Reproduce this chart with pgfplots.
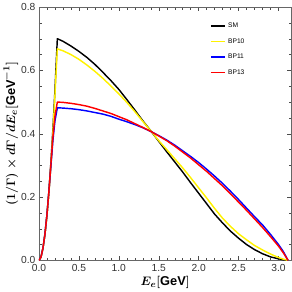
\documentclass[border=0pt]{standalone}
\usepackage{amsmath}
\usepackage{fontspec}
\setmainfont{Liberation Sans}
\usepackage{pgfplots}
\pgfplotsset{compat=1.18}
\begin{document}
\begin{tikzpicture}
\begin{axis}[
  scale only axis,
  width=246pt, height=247pt,
  xmin=0, xmax=3.16, ymin=0, ymax=0.8,
  xtick={0,0.5,1,1.5,2,2.5,3},
  ytick={0,0.2,0.4,0.6,0.8},
  xticklabels={0.0,0.5,1.0,1.5,2.0,2.5,3.0},
  yticklabels={0.0,0.2,0.4,0.6,0.8},
  minor x tick num=4, minor y tick num=3,
  tick align=inside,
  major tick length=4pt, minor tick length=2.5pt,
  every tick/.style={black!70, thin},
  axis line style={black!60, line width=0.6pt},
  tick label style={font=\fontsize{10}{12}\selectfont, text=black!80},
  /pgf/number format/assume math mode=true,
  xlabel={$\boldsymbol{E_e[\mathrm{GeV}]}$},
  ylabel={$\boldsymbol{(1/\Gamma)\times d\Gamma/dE_e[\mathrm{GeV}^{-1}]}$},
  label style={font=\fontsize{12.5}{14}\selectfont},
  xlabel style={yshift=2pt},
  ylabel style={yshift=-4pt},
  legend style={draw=none, fill=none, at={(0.665,0.955)}, anchor=north west,
    font=\fontsize{6.5}{7}\selectfont, row sep=5.2pt},
  legend cell align=left,
  legend image code/.code={\draw[#1, line width=1.4pt] (0cm,0cm) -- (0.5cm,0cm);},
  every axis plot/.append style={line width=1.4pt, line join=round},
]
\addplot[black] coordinates {
(0,0) (0.025,0.0103) (0.05,0.0386) (0.075,0.0833) (0.1,0.1438) (0.125,0.2197) (0.15,0.311) (0.175,0.4165) (0.2,0.5367) (0.23,0.700)
(0.3,0.692) (0.4,0.677) (0.5,0.660) (0.6,0.641) (0.7,0.619) (0.8,0.594) (0.9,0.568) (1.0,0.540) (1.1,0.508) (1.2,0.475) (1.3,0.441) (1.41,0.406)
(1.5,0.376) (1.6,0.343) (1.7,0.311) (1.8,0.279) (1.9,0.245) (2.0,0.212) (2.1,0.179) (2.2,0.146) (2.3,0.118) (2.4,0.092) (2.5,0.070) (2.6,0.050)
(2.7,0.034) (2.8,0.021) (2.9,0.011) (3.0,0.005) (3.06,0.002) (3.12,0)
};
\addlegendentry{SM}
\addplot[yellow] coordinates {
(0,0) (0.025,0.0100) (0.05,0.0376) (0.075,0.0812) (0.1,0.1400) (0.125,0.2140) (0.15,0.303) (0.175,0.405) (0.2,0.522) (0.23,0.668)
(0.3,0.662) (0.4,0.650) (0.5,0.635) (0.6,0.617) (0.7,0.597) (0.8,0.575) (0.9,0.551) (1.0,0.526) (1.1,0.499) (1.2,0.470) (1.3,0.439) (1.41,0.406)
(1.5,0.378) (1.6,0.350) (1.7,0.321) (1.8,0.292) (1.9,0.261) (2.0,0.229) (2.1,0.197) (2.2,0.164) (2.3,0.133) (2.4,0.107) (2.5,0.084) (2.6,0.065)
(2.7,0.047) (2.8,0.033) (2.9,0.020) (3.0,0.009) (3.06,0.004) (3.12,0)
};
\addlegendentry{BP10}
\addplot[blue] coordinates {
(0,0) (0.025,0.0103) (0.05,0.0386) (0.075,0.0833) (0.1,0.1438) (0.125,0.2197) (0.15,0.300) (0.175,0.380) (0.2,0.440) (0.23,0.482)
(0.3,0.481) (0.4,0.479) (0.5,0.476) (0.6,0.472) (0.7,0.467) (0.8,0.462) (0.9,0.455) (1.0,0.446) (1.1,0.438) (1.2,0.429) (1.3,0.419) (1.41,0.406)
(1.5,0.394) (1.6,0.380) (1.7,0.364) (1.8,0.346) (1.9,0.328) (2.0,0.309) (2.1,0.288) (2.2,0.266) (2.3,0.243) (2.4,0.218) (2.5,0.192) (2.6,0.165)
(2.7,0.138) (2.8,0.112) (2.9,0.082) (3.0,0.050) (3.06,0.028) (3.12,0)
};
\addlegendentry{BP11}
\addplot[red] coordinates {
(0,0) (0.025,0.0103) (0.05,0.0386) (0.075,0.0833) (0.1,0.1438) (0.125,0.2197) (0.15,0.305) (0.175,0.390) (0.2,0.455) (0.23,0.500)
(0.3,0.499) (0.4,0.496) (0.5,0.492) (0.6,0.487) (0.7,0.480) (0.8,0.472) (0.9,0.464) (1.0,0.454) (1.1,0.444) (1.2,0.432) (1.3,0.420) (1.41,0.406)
(1.5,0.393) (1.6,0.378) (1.7,0.361) (1.8,0.342) (1.9,0.323) (2.0,0.302) (2.1,0.281) (2.2,0.258) (2.3,0.235) (2.4,0.210) (2.5,0.184) (2.6,0.158)
(2.7,0.131) (2.8,0.104) (2.9,0.075) (3.0,0.045) (3.06,0.024) (3.12,0)
};
\addlegendentry{BP13}
\end{axis}
\end{tikzpicture}
\end{document}
